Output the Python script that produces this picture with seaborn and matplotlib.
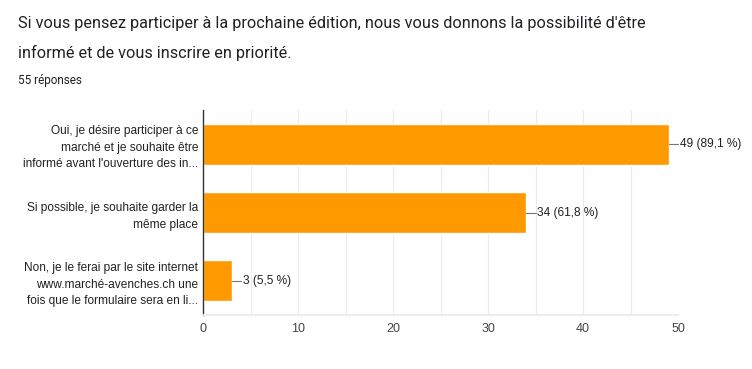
import pandas as pd
import matplotlib.pyplot as plt
import seaborn as sns

categories = [
    "Oui, je désire participer à ce\nmarché et je souhaite être\ninformé avant l'ouverture des in...",
    "Si possible, je souhaite garder la\nmême place",
    "Non, je le ferai par le site internet\nwww.marché-avenches.ch une\nfois que le formulaire sera en li...",
]
counts = [49, 34, 3]
percents = ["89,1 %", "61,8 %", "5,5 %"]

df = pd.DataFrame({"reponse": categories, "n": counts})

sns.set_theme(style="white")
plt.rcParams['font.family'] = ['Liberation Sans', 'DejaVu Sans']

fig = plt.figure(figsize=(7.52, 3.69), dpi=100)
ax = fig.add_axes([0.27, 0.146, 0.6316, 0.556])

sns.barplot(data=df, y="reponse", x="n", orient="h", color="#ff9900",
            saturation=1, width=0.6, ax=ax)

ax.set_xlim(0, 50)
ax.set_ylim(2.5, -0.5)
ax.set_xticks(range(0, 51, 10))
ax.set_xticks(range(5, 50, 10), minor=True)
ax.grid(axis="x", which="both", color="#ebebeb", linewidth=0.8)
ax.set_axisbelow(True)
for s in ["top", "right"]:
    ax.spines[s].set_visible(False)
ax.spines["bottom"].set_color("#ebebeb")
ax.spines["left"].set_color("#333333")
ax.spines["left"].set_linewidth(1.0)
ax.tick_params(axis="x", which="both", length=0, labelsize=9, labelcolor="#444444", pad=6)
ax.tick_params(axis="y", length=0, labelsize=8.55, labelcolor="#222222", pad=3.5)
ax.set_xlabel("")
ax.set_ylabel("")
for lab in ax.get_yticklabels():
    lab.set_horizontalalignment("right")
    lab.set_multialignment("right")
    lab.set_linespacing(1.5)

# leader line + value label next to each bar
for i, (n, p) in enumerate(zip(counts, percents)):
    ax.plot([n, n + 1.0], [i, i], color="#777777", linewidth=0.8, clip_on=False)
    ax.text(n + 1.2, i, f"{n} ({p})", va="center", ha="left", fontsize=8.6,
            color="#222222", clip_on=False)

fig.text(0.024, 0.935, "Si vous pensez participer à la prochaine édition, nous vous donnons la possibilité d'être",
         fontsize=11.7, color="#202124", family=["Roboto", "DejaVu Sans"], va="center")
fig.text(0.024, 0.857, "informé et de vous inscrire en priorité.",
         fontsize=11.7, color="#202124", family=["Roboto", "DejaVu Sans"], va="center")
fig.text(0.024, 0.782, "55 réponses", fontsize=8.5, color="#202124",
         family=["Roboto", "DejaVu Sans"], va="center")

fig.savefig("out.png", dpi=100, facecolor="white")
